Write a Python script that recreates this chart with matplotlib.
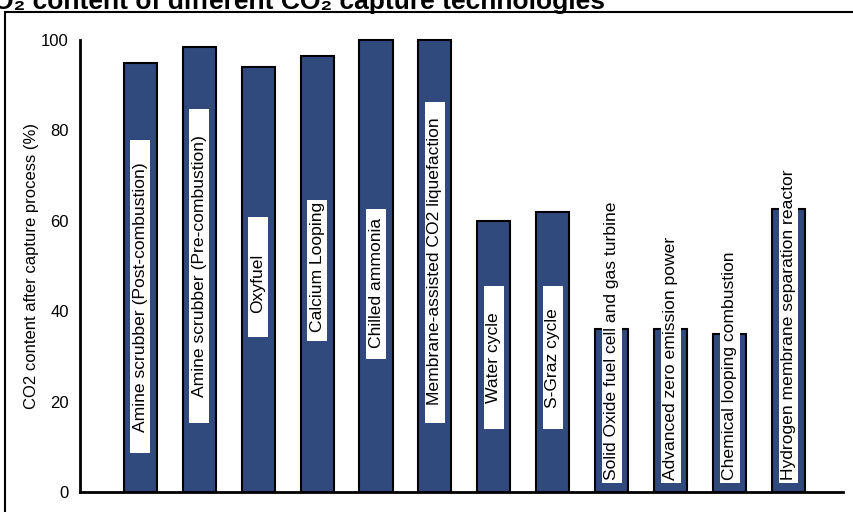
import matplotlib
matplotlib.use("Agg")
import matplotlib.pyplot as plt
from matplotlib.patches import Rectangle

plt.rcParams['font.family'] = ['Liberation Sans', 'DejaVu Sans']

technologies = [
    "Amine scrubber (Post-combustion)",
    "Amine scrubber (Pre-combustion)",
    "Oxyfuel",
    "Calcium Looping",
    "Chilled ammonia",
    "Membrane-assisted CO2 liquefaction",
    "Water cycle",
    "S-Graz cycle",
    "Solid Oxide fuel cell and gas turbine",
    "Advanced zero emission power",
    "Chemical looping combustion",
    "Hydrogen membrane separation reactor",
]
co2_content = [95, 98.5, 94, 96.5, 100, 100, 60, 62, 36, 36, 35, 62.5]

# where each rotated label sits inside its bar (layout only, data units)
label_start = [13.3, 21.1, 39.7, 35.3, 31.9, 19.3, 19.7, 18.6, 2.7, 2.7, 2.7, 2.7]
box_low = [8.6, 15.3, 34.4, 33.3, 29.5, 15.3, 14.0, 14.0, 2.0, 2.0, 2.0, 2.0]
box_high = [77.8, 84.7, 60.8, 64.7, 62.5, 86.3, 45.5, 45.5, 72.5, 72.5, 72.9, 72.9]

BAR_COLOR = "#314a7d"

fig = plt.figure(figsize=(8.54, 5.12), dpi=100)
ax = fig.add_axes([80 / 854, 20 / 512, 763 / 854, 452 / 512])

x = list(range(len(technologies)))
ax.bar(x, co2_content, width=0.56, color=BAR_COLOR, edgecolor="black",
       linewidth=1.5, zorder=2, clip_on=False)

for i, name in enumerate(technologies):
    ax.add_patch(Rectangle((i - 0.165, box_low[i]), 0.33, box_high[i] - box_low[i],
                           facecolor="white", edgecolor="none", zorder=3))
    ax.text(i, label_start[i], name, rotation=90, ha="center", va="bottom",
            fontsize=12.6, color="black", zorder=4)

ax.set_xlim(-1.02, 11.92)
ax.set_ylim(0, 100)
ax.set_yticks([0, 20, 40, 60, 80, 100])
ax.set_xticks([])
ax.tick_params(axis="y", length=0, pad=8, labelsize=12)
ax.set_ylabel("CO2 content after capture process (%)", fontsize=12, labelpad=1.5)

for side in ["top", "right"]:
    ax.spines[side].set_visible(False)
for side in ["left", "bottom"]:
    ax.spines[side].set_linewidth(2)
    ax.spines[side].set_color("black")

# outer frame and the cut-off title, as in the source figure
fig.patches.append(Rectangle((5 / 854, -0.05), 1.0, 1 - 12 / 512 + 0.05,
                             transform=fig.transFigure, fill=False,
                             edgecolor="black", linewidth=1.5))
fig.text(605 / 854, 1 - 8.5 / 512, "CO\u2082 content of different CO\u2082 capture technologies",
         ha="right", va="baseline", fontsize=19, fontweight="bold")

fig.savefig("out.png", dpi=100)
